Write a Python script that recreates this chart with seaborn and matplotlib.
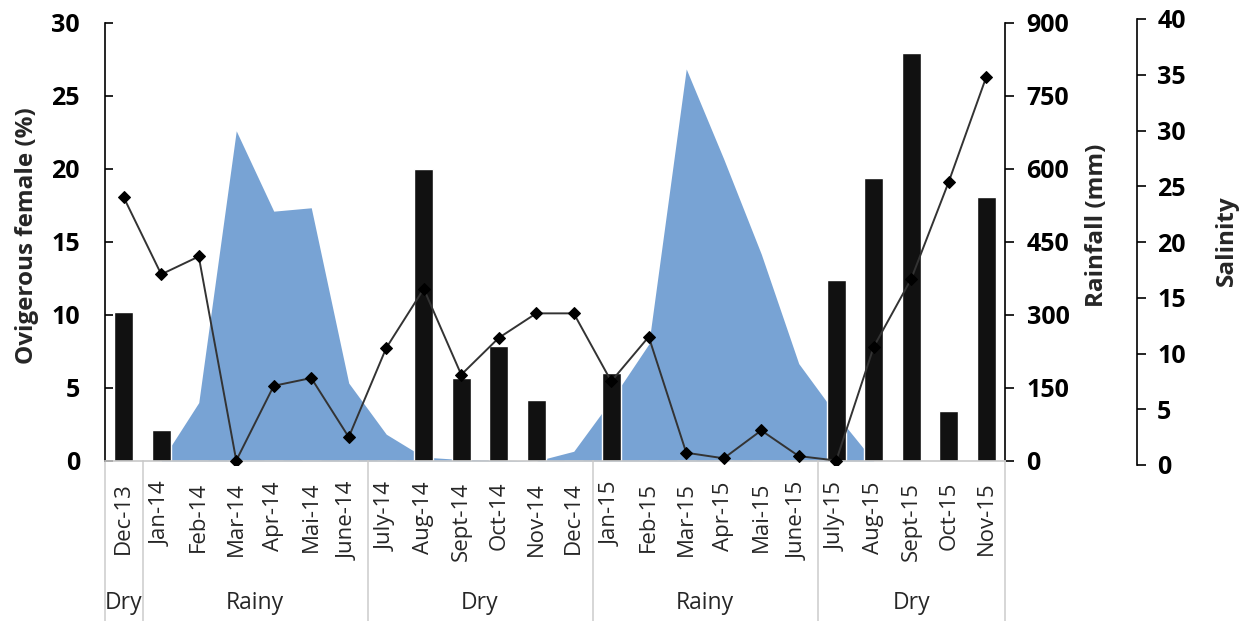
import numpy as np
import matplotlib
matplotlib.use("Agg")
import matplotlib.pyplot as plt
import matplotlib.transforms as mtransforms
import seaborn as sns

# ---------------- data ----------------
months = ["Dec-13", "Jan-14", "Feb-14", "Mar-14", "Apr-14", "Mai-14", "June-14",
          "July-14", "Aug-14", "Sept-14", "Oct-14", "Nov-14", "Dec-14",
          "Jan-15", "Feb-15", "Mar-15", "Apr-15", "Mai-15", "June-15",
          "July-15", "Aug-15", "Sept-15", "Oct-15", "Nov-15"]
ovigerous = [10.2, 2.1, 0, 0, 0, 0, 0, 0, 20.0, 5.7, 7.9, 4.2, 0,
             6.0, 0, 0, 0, 0, 0, 12.4, 19.4, 27.9, 3.4, 18.1]
rainfall = [0, 0, 120, 678, 513, 520, 160, 55, 8, 3, 2, 0, 20,
            125, 240, 805, 620, 425, 200, 95, 0, 0, 0, 0]
salinity = [24.0, 17.1, 18.7, 0.4, 7.1, 7.8, 2.5, 10.5, 15.8, 8.1, 11.4, 13.6, 13.6,
            7.5, 11.5, 1.1, 0.6, 3.1, 0.8, 0.4, 10.6, 16.7, 25.4, 34.8]
seasons = ["Dry", "Rainy", "Dry", "Rainy", "Dry"]
season_sizes = [1, 6, 6, 6, 5]
left_ticks = [0, 5, 10, 15, 20, 25, 30]
rain_ticks = [0, 150, 300, 450, 600, 750, 900]
sal_ticks = [0, 5, 10, 15, 20, 25, 30, 35, 40]

# ---------------- style ----------------
sns.set_style("white")
plt.rcParams["font.family"] = ["Open Sans", "DejaVu Sans"]

W, H = 1249, 621
fig = plt.figure(figsize=(W / 100, H / 100), dpi=100)


def box(l, t, r, b):
    return [l / W, 1 - b / H, (r - l) / W, (b - t) / H]


ax_rain = fig.add_axes(box(105, 22.7, 1005, 461), label="rain")
ax = fig.add_axes(box(105, 22.7, 1005, 461), label="ovig")
ax_sal = fig.add_axes(box(105, 19, 1005, 465), label="sal")
ax_rain.set_zorder(0)
ax.set_zorder(1)
ax_sal.set_zorder(2)
ax.patch.set_visible(False)
ax_sal.patch.set_visible(False)

x = np.arange(len(months))
xlim = (-0.5, len(months) - 0.5)
spine_w = 1.2
num_font = 18
cat_font = 16
title_font = 17.5

# rainfall area
ax_rain.fill_between(x, rainfall, 0, color="#78A3D4", lw=0)
ax_rain.set_xlim(*xlim)
ax_rain.set_ylim(0, 900)
ax_rain.set_xticks([])
ax_rain.yaxis.tick_right()
ax_rain.set_yticks(rain_ticks)
ax_rain.set_yticklabels([str(t) for t in rain_ticks], fontweight="bold", fontsize=num_font)
ax_rain.tick_params(axis="y", direction="out", length=6.5, width=spine_w, pad=9,
                    colors="black", right=True)
for s in ["left", "top", "bottom"]:
    ax_rain.spines[s].set_visible(False)
ax_rain.spines["right"].set_color("black")
ax_rain.spines["right"].set_linewidth(spine_w)

# bars
sns.barplot(x=months, y=ovigerous, order=months, color="#111111", saturation=1,
            width=0.5, ax=ax)
ax.set_xlim(*xlim)
ax.set_ylim(0, 30)
ax.set_xlabel("")
ax.set_ylabel("")
ax.set_yticks(left_ticks)
ax.set_yticklabels([str(t) for t in left_ticks], fontweight="bold", fontsize=num_font)
ax.tick_params(axis="y", direction="in", length=6, width=spine_w, pad=18, left=True,
               colors="black")
ax.set_xticks(x)
ax.set_xticklabels(months, rotation=90, fontsize=cat_font)
ax.tick_params(axis="x", length=0, pad=15)
for s in ["top", "right"]:
    ax.spines[s].set_visible(False)
ax.spines["left"].set_color("black")
ax.spines["left"].set_linewidth(spine_w)
ax.spines["bottom"].set_color("#C8C8C8")
ax.spines["bottom"].set_linewidth(1.2)

# season separators and labels
trans = mtransforms.blended_transform_factory(ax.transData, ax.transAxes)
bounds = np.concatenate([[0], np.cumsum(season_sizes)]) - 0.5
ax_h = 461 - 22.7
for b in bounds:
    ax.plot([b, b], [0, -(621 - 461) / ax_h], transform=trans, clip_on=False,
            color="#D3D3D3", lw=1.3)
for name, lo, n in zip(seasons, bounds[:-1], season_sizes):
    ax.text(lo + n / 2, -(603 - 461) / ax_h, name, transform=trans, ha="center",
            va="center", fontsize=16.5)

# salinity line
sns.lineplot(x=x, y=salinity, ax=ax_sal, color="#333333", lw=1.4, marker="D",
             markersize=6.5, markerfacecolor="black", markeredgecolor="black")
for s in ["left", "top", "bottom"]:
    ax_sal.spines[s].set_visible(False)
ax_sal.spines["right"].set_position(("axes", (1137 - 105) / 900))
ax_sal.spines["right"].set_color("black")
ax_sal.spines["right"].set_linewidth(spine_w)
ax_sal.set_xlim(*xlim)
ax_sal.set_ylim(0, 40)
ax_sal.set_xticks([])
ax_sal.set_xlabel("")
ax_sal.set_ylabel("")
ax_sal.yaxis.tick_right()
ax_sal.set_yticks(sal_ticks)
ax_sal.set_yticklabels([str(t) for t in sal_ticks], fontweight="bold", fontsize=num_font)
ax_sal.tick_params(axis="y", direction="out", length=6.5, width=spine_w, pad=8,
                   right=True, colors="black")

# axis titles
fig.text(27 / W, 1 - 236 / H, "Ovigerous female (%)", rotation=90, ha="center",
         va="center", fontweight="bold", fontsize=title_font)
fig.text(1097 / W, 1 - 225 / H, "Rainfall (mm)", rotation=90, ha="center",
         va="center", fontweight="bold", fontsize=title_font)
fig.text(1227 / W, 1 - 241 / H, "Salinity", rotation=90, ha="center",
         va="center", fontweight="bold", fontsize=title_font)

fig.savefig("out.png", dpi=100)
